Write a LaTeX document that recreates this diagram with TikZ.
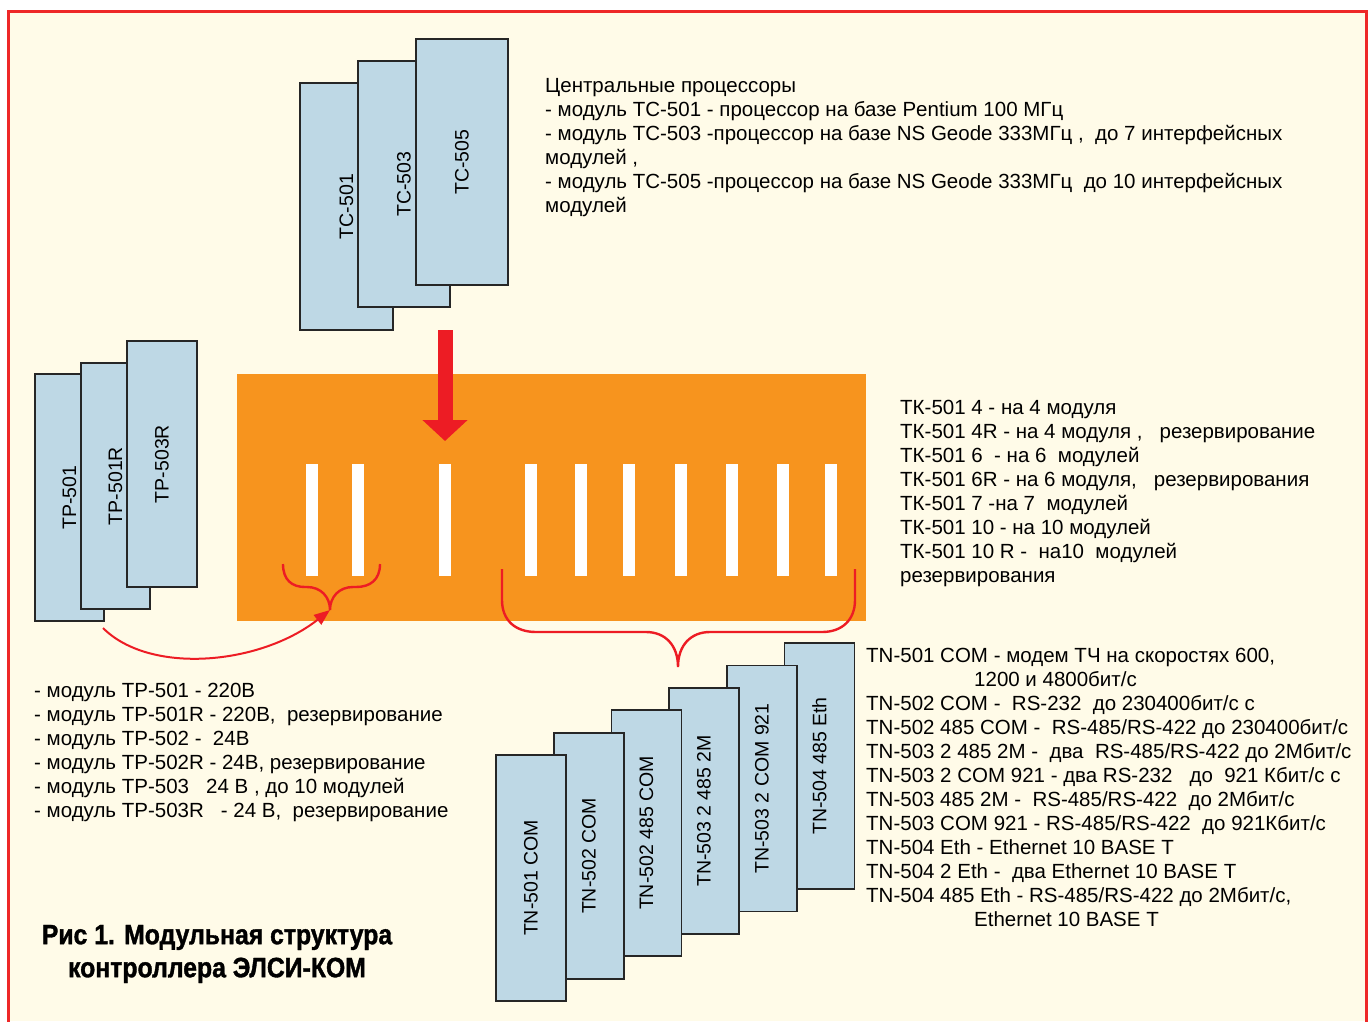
\documentclass[tikz,border=0pt]{standalone}
\usepackage{fontspec}
\setmainfont{Liberation Sans}
\newfontfamily\titlefont[FakeStretch=0.885,FakeBold=1.3]{Liberation Sans Bold}
\usetikzlibrary{arrows.meta}
\definecolor{cream}{RGB}{255,251,232}
\definecolor{boxblue}{RGB}{190,216,229}
\definecolor{orangeb}{RGB}{247,148,30}
\definecolor{redc}{RGB}{237,28,36}
\definecolor{framered}{RGB}{238,40,40}
\begin{document}
\begin{tikzpicture}[x=1pt,y=-1pt,
  module/.style={draw=black!85, fill=boxblue, line width=1.4pt, inner sep=0pt,
    font=\fontsize{19.5}{23}\selectfont},
  tcbox/.style={module, minimum width=92pt, minimum height=246pt},
  tnbox/.style={module, minimum width=70pt, minimum height=246pt},
  slotbar/.style={fill=white, inner sep=0pt, minimum width=12pt, minimum height=112pt},
  txt/.style={anchor=north west, inner sep=0pt, align=left, font=\fontsize{20.5}{24}\selectfont},
  brace/.style={draw=redc, line width=2.4pt},
  bigarrow/.style={draw=redc, line width=15pt, -{Triangle[length=21pt,width=44pt]}},
  curvedarrow/.style={draw=redc, line width=2pt, -{Triangle[length=16pt,width=12pt]}}]
\useasboundingbox (0,0) rectangle (1368,1021);
\fill[white] (0,0) rectangle (1368,1021);
\fill[cream] (8,11) rectangle (1366,1021);
\draw[framered, line width=3pt] (8,1023) -- (8,11) -- (1366,11) -- (1366,1023);

% central processors
\node[tcbox, minimum width=93pt, minimum height=247pt] (tc501) at (346.5,206.5) {\rotatebox{90}{TC-501}};
\node[tcbox] (tc503) at (404,184) {\rotatebox{90}{TC-503}};
\node[tcbox] (tc505) at (462,162) {\rotatebox{90}{TC-505}};

% power modules
\node[tnbox, minimum width=69pt, minimum height=247pt] (tp501) at (69.5,497.5) {\rotatebox{90}{TP-501}};
\node[tnbox, minimum width=69pt] (tp501r) at (115.5,486) {\rotatebox{90}{TP-501R}};
\node[tnbox] (tp503r) at (162,464) {\rotatebox{90}{TP-503R}};

% board
\node[fill=orangeb, inner sep=0pt, minimum width=629pt, minimum height=247pt] (board) at (551.5,497.5) {};
\foreach \i/\x in {1/312,2/358,3/445,4/531,5/581,6/629,7/681,8/732,9/783,10/831}
  \node[slotbar] (slot\i) at (\x,520) {};

% big arrow
\coordinate (arrtop) at (445,330);
\coordinate (arrtip) at (445,441);
\draw[bigarrow] (arrtop) -- (arrtip);

% small brace
\coordinate (sbl) at (283,564);
\coordinate (sbtip) at (330,610);
\coordinate (sbr) at (380,564);
\draw[brace] (sbl) .. controls (283,580) and (292,587) .. (305,587) -- (307,587)
  .. controls (321,587) and (330,597) .. (sbtip)
  .. controls (330,597) and (339,587) .. (353,587) -- (356,587)
  .. controls (370,587) and (380,580) .. (sbr);

% big brace
\coordinate (bbl) at (502,569);
\coordinate (bbtip) at (678,667);
\coordinate (bbr) at (855,569);
\draw[brace] (bbl) -- (502,600) .. controls (502,620) and (515,632) .. (536,632) -- (646,632)
  .. controls (665,632) and (678,645) .. (bbtip)
  .. controls (678,645) and (691,632) .. (710,632) -- (822,632)
  .. controls (842,632) and (855,620) .. (855,600) -- (bbr);

% curved arrow from power modules
\coordinate (tpout) at (103,628);
\draw[curvedarrow] (tpout) .. controls (150,675) and (260,665) .. (sbtip);

% interface modules (front-most drawn last)
\node[tnbox] (tn504) at (819.5,766) {\rotatebox{90}{TN-504 485 Eth}};
\node[tnbox] (tn503b) at (762,788.5) {\rotatebox{90}{TN-503 2 COM 921}};
\node[tnbox] (tn503a) at (704,811) {\rotatebox{90}{TN-503 2 485 2M}};
\node[tnbox] (tn502b) at (646.5,833) {\rotatebox{90}{TN-502 485 COM}};
\node[tnbox] (tn502a) at (589,856) {\rotatebox{90}{TN-502 COM}};
\node[tnbox] (tn501) at (531,878) {\rotatebox{90}{TN-501 COM}};

% texts
\node[txt] (tctext) at (545,75.2) {\strut Центральные процессоры\\
- модуль ТС-501 - процессор на базе Pentium 100 МГц\\
- модуль ТС-503 -процессор на базе NS Geode 333МГц ,\ \ до 7 интерфейсных\\
модулей ,\\
- модуль ТС-505 -процессор на базе NS Geode 333МГц\ \ до 10 интерфейсных\\
модулей};

\node[txt] (tktext) at (900,397.2) {\strut ТК-501 4 - на 4 модуля\\
ТК-501 4R - на 4 модуля ,\ \ \ резервирование\\
ТК-501 6\ \ - на 6\ \ модулей\\
ТК-501 6R - на 6 модуля,\ \ \ резервирования\\
ТК-501 7 -на 7\ \ модулей\\
ТК-501 10 - на 10 модулей\\
ТК-501 10 R -\ \ на10\ \ модулей\\
резервирования};

\node[txt] (tntext) at (866,645.2) {\strut TN-501 COM - модем ТЧ на скоростях 600,\\
\hspace*{108pt}1200 и 4800бит/с\\
TN-502 COM -\ \ RS-232\ \ до 230400бит/с с\\
TN-502 485 COM -\ \ RS-485/RS-422 до 230400бит/с\\
TN-503 2 485 2M -\ \ два\ \ RS-485/RS-422 до 2Мбит/с\\
TN-503 2 COM 921 - два RS-232\ \ \ до\ \ 921 Кбит/с с\\
TN-503 485 2M -\ \ RS-485/RS-422\ \ до 2Мбит/с\\
TN-503 COM 921 - RS-485/RS-422\ \ до 921Кбит/с\\
TN-504 Eth - Ethernet 10 BASE T\\
TN-504 2 Eth -\ \ два Ethernet 10 BASE T\\
TN-504 485 Eth - RS-485/RS-422 до 2Мбит/с,\\
\hspace*{108pt}Ethernet 10 BASE T};

\node[txt] (tptext) at (34,680.2) {\strut - модуль ТР-501 - 220В\\
- модуль ТР-501R - 220В,\ \ резервирование\\
- модуль ТР-502 -\ \ 24В\\
- модуль ТР-502R - 24В, резервирование\\
- модуль ТР-503\ \ \ 24 В , до 10 модулей\\
- модуль ТР-503R\ \ \ - 24 В,\ \ резервирование};

\node[anchor=north, inner sep=0pt, align=center,
  font=\titlefont\fontsize{28}{33}\selectfont] (title) at (217,920.9)
  {\strut Рис 1. Модульная структура\\контроллера ЭЛСИ-КОМ};
\end{tikzpicture}
\end{document}
